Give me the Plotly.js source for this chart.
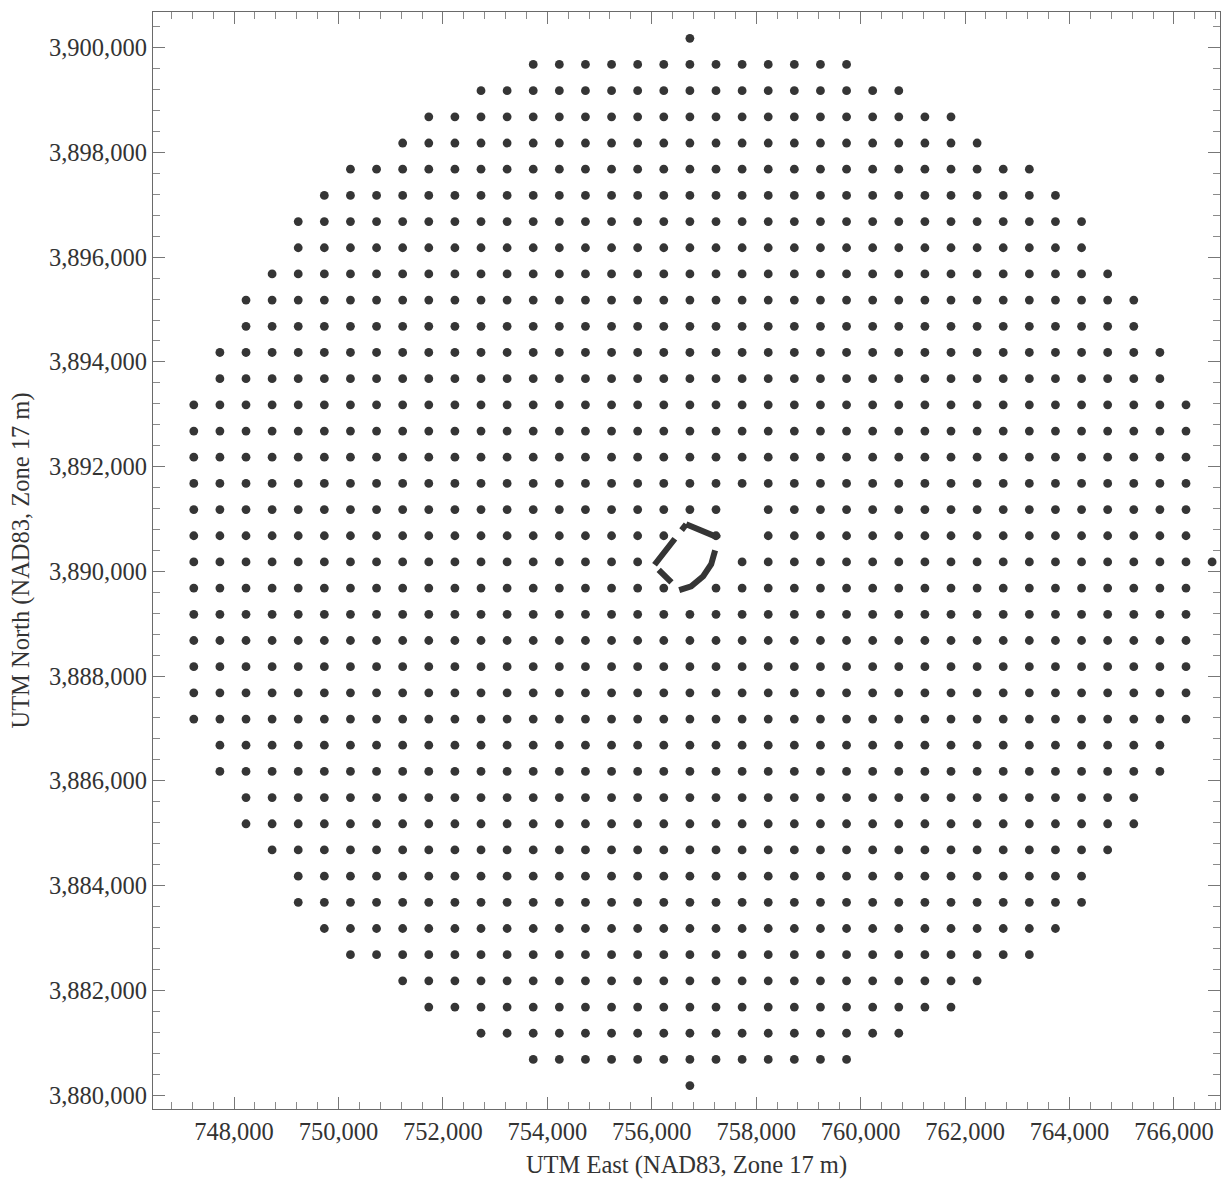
<!DOCTYPE html>
<html>
<head>
<meta charset="utf-8">
<script src="https://cdn.plot.ly/plotly-3.0.1.min.js"></script>
<style>
  html, body { margin: 0; padding: 0; background: #ffffff; }
  #chart { width: 1224px; height: 1186px; }
</style>
</head>
<body>
<div id="chart"></div>
<script>
// Cartesian receptor grid, 500 m spacing, one entry per row (north to south)
const gridSpacing = 500;

const rowNorth = [
  3899680, 3899180, 3898680, 3898180, 3897680, 3897180, 3896680, 3896180,
  3895680, 3895180, 3894680, 3894180, 3893680, 3893180, 3892680, 3892180,
  3891680, 3891180, 3890680, 3890180, 3889680, 3889180, 3888680, 3888180,
  3887680, 3887180, 3886680, 3886180, 3885680, 3885180, 3884680, 3884180,
  3883680, 3883180, 3882680, 3882180, 3881680, 3881180, 3880680
];

// westmost receptor easting in each row
const rowWest = [
  753730, 752730, 751730, 751230, 750230, 749730, 749230, 749230,
  748730, 748230, 748230, 747730, 747730, 747230, 747230, 747230,
  747230, 747230, 747230, 747230, 747230, 747230, 747230, 747230,
  747230, 747230, 747730, 747730, 748230, 748230, 748730, 749230,
  749230, 749730, 750230, 751230, 751730, 752730, 753730
];

// eastmost receptor easting in each row
const rowEast = [
  759730, 760730, 761730, 762230, 763230, 763730, 764230, 764230,
  764730, 765230, 765230, 765730, 765730, 766230, 766230, 766230,
  766230, 766230, 766230, 766230, 766230, 766230, 766230, 766230,
  766230, 766230, 765730, 765730, 765230, 765230, 764730, 764230,
  764230, 763730, 763230, 762230, 761730, 760730, 759730
];

// grid nodes left out next to the facility
const skipEast  = [757730, 757730, 756730, 756230, 756730, 757230, 756730];
const skipNorth = [3891180, 3890680, 3890680, 3890180, 3890180, 3890180, 3889680];

// single receptors at 10 km
const extraEast  = [756730, 756730, 766730];
const extraNorth = [3900180, 3880180, 3890180];

// facility fence line
const fenceEast  = [756659, 757253, 757214, 757138, 756985, 756755, 756525, 756046, 756659];
const fenceNorth = [3890900, 3890652, 3890403, 3890136, 3889907, 3889716, 3889640, 3890117, 3890900];

// expand the rows into receptor points
const recEast = [];
const recNorth = [];
for (let r = 0; r < rowNorth.length; r++) {
  for (let e = rowWest[r]; e <= rowEast[r]; e += gridSpacing) {
    let skipped = false;
    for (let s = 0; s < skipEast.length; s++) {
      if (skipEast[s] === e && skipNorth[s] === rowNorth[r]) { skipped = true; break; }
    }
    if (!skipped) { recEast.push(e); recNorth.push(rowNorth[r]); }
  }
}
for (let i = 0; i < extraEast.length; i++) {
  recEast.push(extraEast[i]);
  recNorth.push(extraNorth[i]);
}

const serif = 'Liberation Serif, Times New Roman, serif';
const inkColor = '#353535';
const textColor = '#333333';

const receptors = {
  type: 'scatter',
  mode: 'markers',
  x: recEast,
  y: recNorth,
  marker: { size: 8.8, color: inkColor, line: { width: 0 } },
  hoverinfo: 'x+y',
  showlegend: false
};

const fence = {
  type: 'scatter',
  mode: 'lines',
  x: fenceEast,
  y: fenceNorth,
  line: { color: inkColor, width: 6, dash: '34px,13px,57px,11px,18px,7px,33px,11px,8px,1px' },
  hoverinfo: 'skip',
  showlegend: false
};

function axisStyle(range, first, titleText, standoff) {
  return {
    range: range,
    tick0: first,
    dtick: 2000,
    tickformat: ',d',
    ticks: 'inside',
    ticklen: 12,
    tickwidth: 1,
    tickcolor: '#777777',
    minor: { dtick: 400, tick0: first, ticks: 'inside', ticklen: 7, tickwidth: 1, tickcolor: '#8a8a8a' },
    showline: true,
    linecolor: '#6a6a6a',
    linewidth: 1.2,
    mirror: 'ticks',
    showgrid: false,
    zeroline: false,
    tickfont: { family: serif, size: 24.5, color: textColor },
    title: { text: titleText, font: { family: serif, size: 24.5, color: textColor }, standoff: standoff },
    automargin: false
  };
}

const layout = {
  width: 1224,
  height: 1186,
  margin: { l: 153, r: 4, t: 12, b: 77 },
  paper_bgcolor: '#ffffff',
  plot_bgcolor: '#ffffff',
  xaxis: axisStyle([746449, 766881], 748000, 'UTM East (NAD83, Zone 17 m)', 12),
  yaxis: axisStyle([3879733, 3900682], 3880000, 'UTM North (NAD83, Zone 17 m)', 12),
  showlegend: false
};

Plotly.newPlot('chart', [receptors, fence], layout, { displayModeBar: false, staticPlot: true });
</script>
</body>
</html>
